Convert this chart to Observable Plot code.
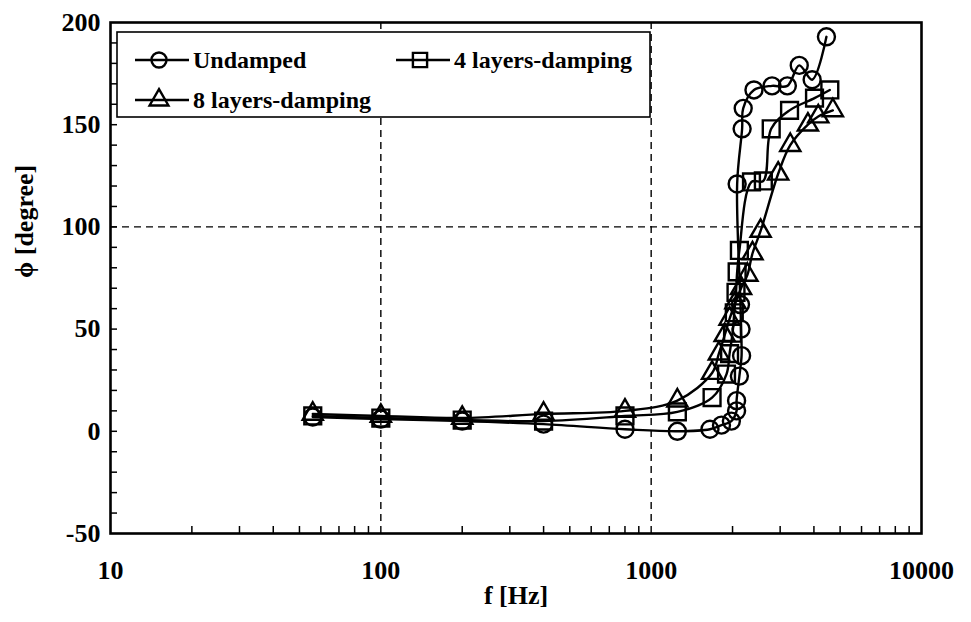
<!DOCTYPE html>
<html><head><meta charset="utf-8">
<script src="https://cdn.jsdelivr.net/npm/d3@7"></script>
<script src="https://cdn.jsdelivr.net/npm/@observablehq/plot@0.6"></script>
<style>
html,body{margin:0;padding:0;background:#fff;}
#chart{width:971px;height:622px;}
</style></head><body><div id="chart"></div>
<script>
// ---- data ----
const seriesNames = ["Undamped", "4 layers-damping", "8 layers-damping"];

const fUndamped   = [56, 100, 200, 400, 800, 1250, 1650, 1820, 1980, 2070, 2070, 2120, 2160, 2150, 2140, 2080, 2170, 2190, 2400, 2800, 3190, 3530, 3940, 4450];
const phiUndamped = [7, 6, 5, 3.5, 1, 0, 1, 3, 5, 10, 15, 27, 37, 50, 62, 121, 148, 158, 167, 169, 169, 179, 172, 193];

const f4layers   = [56, 100, 200, 400, 800, 1250, 1680, 1900, 1950, 2000, 2030, 2060, 2080, 2120, 2350, 2600, 2780, 3250, 4020, 4580];
const phi4layers = [7.5, 6.5, 5.5, 5, 7.5, 9.5, 16.5, 28, 38, 48, 58, 68, 78, 88.5, 122, 122.5, 148, 157, 163, 167];

const f8layers   = [56, 100, 200, 400, 800, 1250, 1680, 1780, 1870, 1950, 2050, 2150, 2270, 2370, 2540, 2950, 3270, 3800, 4150, 4700];
const phi8layers = [8.5, 7.5, 6.5, 8.5, 10, 15, 28.5, 38, 47, 55, 63, 70, 76.5, 87, 98, 126, 140, 150, 154, 157];

const xTickLabels = [10, 100, 1000, 10000];
const yTickLabels = [-50, 0, 50, 100, 150, 200];
const xMinorTicks = [20, 30, 40, 50, 60, 70, 80, 90, 200, 300, 400, 500, 600, 700, 800, 900, 2000, 3000, 4000, 5000, 6000, 7000, 8000, 9000];
const yMinorTicks = [-40, -30, -20, -10, 0, 10, 20, 30, 40, 50, 60, 70, 80, 90, 100, 110, 120, 130, 140, 150, 160, 170, 180, 190];
const xGridValues = [100, 1000];
const yGridValues = [100];

// ---- build rows ----
function rowsOf(name, fs, ps) { return fs.map((f, i) => ({series: name, f, phi: ps[i]})); }
const rowsU = rowsOf(seriesNames[0], fUndamped, phiUndamped);
const rows4 = rowsOf(seriesNames[1], f4layers, phi4layers);
const rows8 = rowsOf(seriesNames[2], f8layers, phi8layers);
const rows = [...rowsU, ...rows4, ...rows8];

const FONT = "'Liberation Serif', 'Times New Roman', serif";
const dash = {stroke: "black", strokeOpacity: 1, strokeWidth: 1.4, strokeDasharray: "7,5"};
const dotStyle = {fill: "none", stroke: "black", strokeWidth: 2.4};

const chart = Plot.plot({
  width: 971, height: 622,
  marginLeft: 110, marginRight: 50, marginTop: 22, marginBottom: 89,
  style: {fontFamily: FONT, fontWeight: "bold", background: "white", color: "black", overflow: "visible"},
  x: {type: "log", domain: [10, 10000]},
  y: {domain: [-50, 200]},
  marks: [
    Plot.gridX(xGridValues, dash),
    Plot.gridY(yGridValues, dash),
    Plot.axisY(yMinorTicks, {anchor: "left", tickSize: 7, dx: 7, tickFormat: () => "", strokeWidth: 1.5, label: null}),
    Plot.axisX(xMinorTicks, {anchor: "bottom", tickSize: 7, dy: -7, tickFormat: () => "", strokeWidth: 1.5, label: null}),
    Plot.axisY(yTickLabels, {anchor: "left", tickSize: 0, tickPadding: 10, fontSize: 26, label: null, tickFormat: d => String(d)}),
    Plot.axisX(xTickLabels, {anchor: "bottom", tickSize: 0, tickPadding: 27, fontSize: 26, label: null, tickFormat: d => String(d)}),
    Plot.line(rows, {x: "f", y: "phi", z: "series", curve: "catmull-rom", stroke: "black", strokeWidth: 2.4}),
    Plot.dot(rowsU, {x: "f", y: "phi", symbol: "circle", r: 8.5, ...dotStyle}),
    Plot.dot(rows4, {x: "f", y: "phi", symbol: "square", r: 9.5, ...dotStyle}),
    Plot.dot(rows8, {x: "f", y: "phi", symbol: "triangle", r: 7.5, ...dotStyle}),
    Plot.frame({stroke: "black", strokeWidth: 2.6}),
    Plot.text(["f [Hz]"], {text: d => d, frameAnchor: "bottom", dy: 70, fontSize: 26, fontWeight: "bold"}),
    Plot.text(["\u03D5 [degree]"], {text: d => d, frameAnchor: "left", dx: -86, rotate: -90, fontSize: 26, fontWeight: "bold"})
  ]
});
document.getElementById("chart").appendChild(chart);

// ---- legend (inside the plot frame, upper left) ----
const svg = d3.select(chart);
const lg = svg.append("g").attr("font-family", FONT).attr("font-weight", "bold")
  .attr("font-size", 24).attr("text-anchor", "start");
lg.append("rect").attr("x", 117).attr("y", 32).attr("width", 533).attr("height", 85)
  .attr("fill", "white").attr("stroke", "black").attr("stroke-width", 1.6);
const legendItems = [
  {name: seriesNames[0], sym: d3.symbolCircle, r: 7.5, x0: 135, y: 60},
  {name: seriesNames[1], sym: d3.symbolSquare, r: 8, x0: 396, y: 60},
  {name: seriesNames[2], sym: d3.symbolTriangle, r: 7, x0: 135, y: 100}
];
for (const it of legendItems) {
  lg.append("line").attr("x1", it.x0).attr("x2", it.x0 + 54).attr("y1", it.y).attr("y2", it.y)
    .attr("stroke", "black").attr("stroke-width", 2.4);
  lg.append("path").attr("d", d3.symbol(it.sym, Math.PI * it.r * it.r)())
    .attr("transform", `translate(${it.x0 + 24},${it.y})`)
    .attr("fill", "none").attr("stroke", "black").attr("stroke-width", 2.4);
  lg.append("text").attr("x", it.x0 + 58).attr("y", it.y).attr("dy", "0.35em")
    .attr("text-anchor", "start").text(it.name);
}
</script>
</body></html>
